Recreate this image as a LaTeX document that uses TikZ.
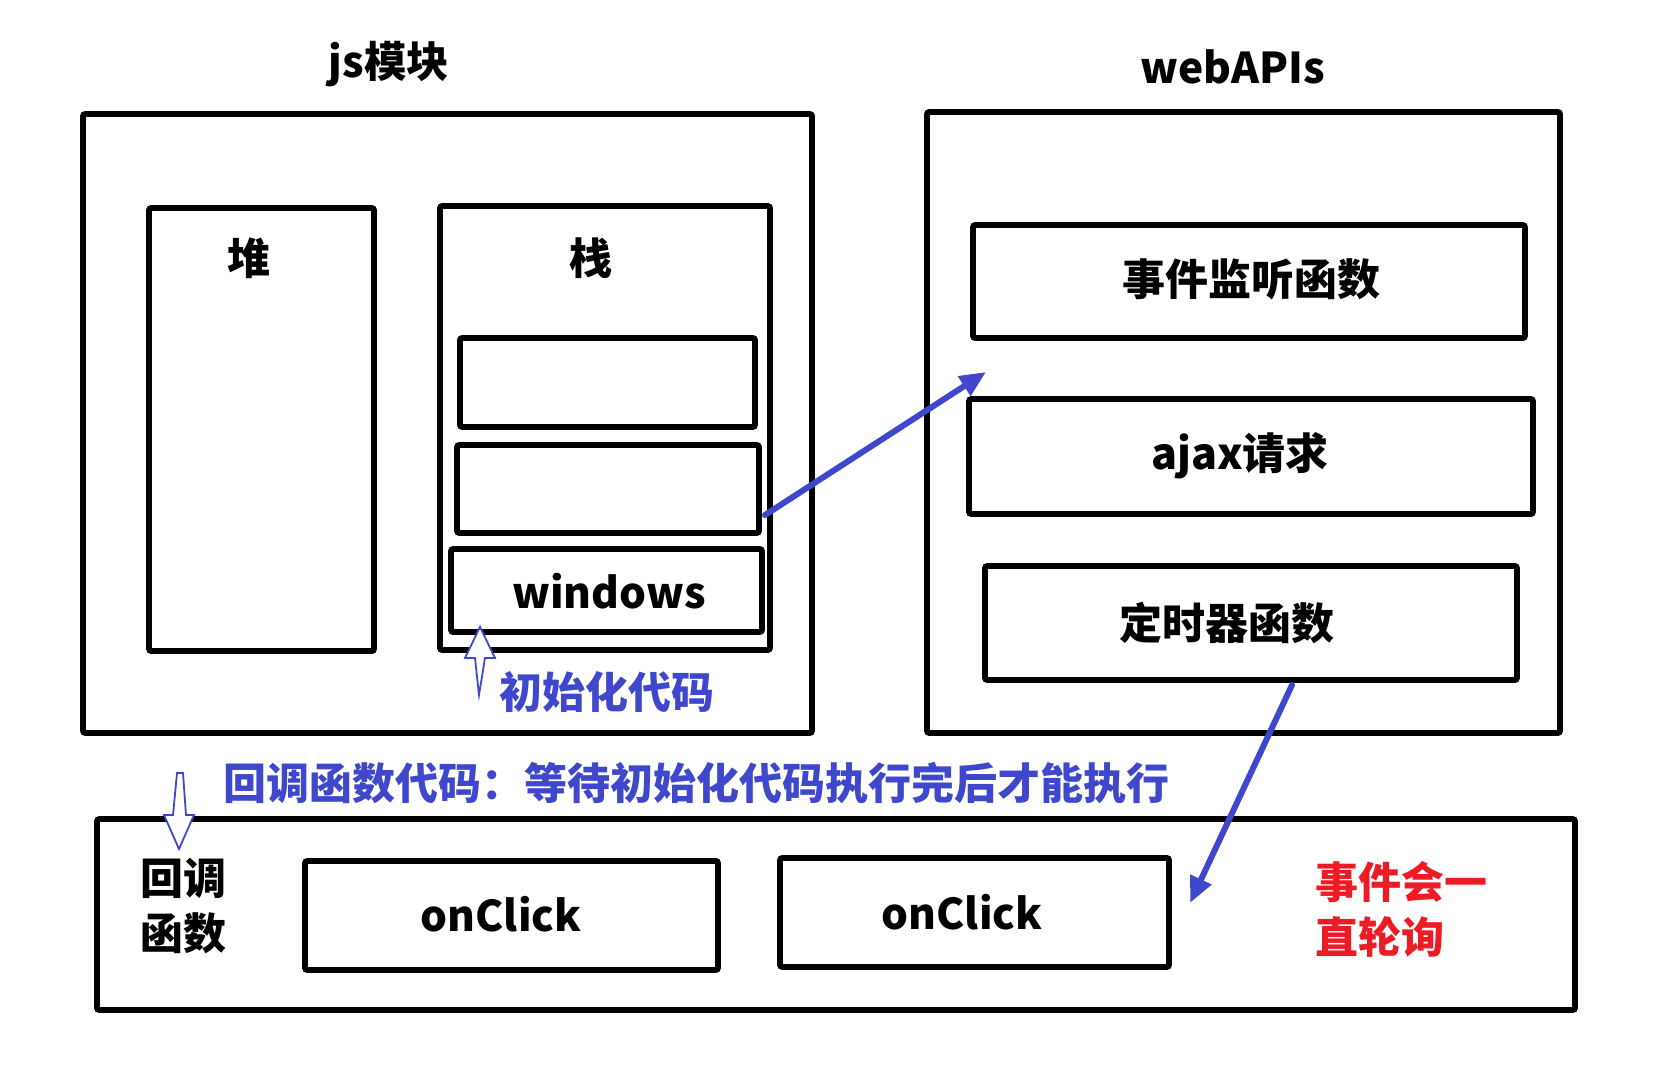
\documentclass[tikz,border=0pt]{standalone}
\usepackage{fontspec}
\setmainfont{Noto Sans CJK SC}
\usetikzlibrary{fit,arrows.meta}
\definecolor{bl}{HTML}{3F48CC}
\definecolor{rd}{HTML}{ED1C24}
\begin{document}
\begin{tikzpicture}[x=0.5pt,y=-0.5pt,
  box/.style={draw=black,line width=2.8pt,rounded corners=1pt,inner sep=0pt,fit={#1}},
  lbl/.style={inner sep=0pt,font=\bfseries\fontsize{21.5}{27.5}\selectfont},
  lat/.style={inner sep=0pt,font=\bfseries\fontsize{21.2}{27.5}\selectfont},
  blt/.style={lbl,text=bl},
  flow/.style={draw=bl,line width=3pt,line cap=round,-{Triangle[length=13pt,width=11pt]}},
  hollow/.style={draw=bl,line width=0.9pt,line join=miter,fill=white}]
\useasboundingbox (0,0) rectangle (1670,1066);
% js module
\node[box={(83,114)(812,733)}] (js) {};
\node[box={(149,208)(374,651)}] (heap) {};
\node[box={(440,206)(770,650)}] (stack) {};
\node[box={(460,338)(755,427)}] (s1) {};
\node[box={(457,445)(759,533)}] (s2) {};
\node[box={(451,549)(762,632)}] (win) {};
% webAPIs
\node[box={(927,112)(1560,733)}] (web) {};
\node[box={(973,225)(1525,338)}] (ev) {};
\node[box={(969,399)(1533,514)}] (ajax) {};
\node[box={(985,566)(1517,680)}] (tm) {};
% callback queue
\node[box={(97,819)(1575,1010)}] (cbq) {};
\node[box={(305,861)(718,970)}] (oc1) {};
\node[box={(780,858)(1169,967)}] (oc2) {};
% texts
\node[lat] (tjs) at (389,64) {js模块};
\node[lat] (tweb) at (1233,67) {webAPIs};
\node[lbl] (theap) at (249,258) {堆};
\node[lbl] (tstack) at (591,258) {栈};
\node[lbl] (tev) at (1251,279) {事件监听函数};
\node[lbl] (tajax) at (1240,456) {ajax请求};
\node[lbl] (ttm) at (1227,623) {定时器函数};
\node[lat] (twin) at (609,591) {windows};
\node[lat] (toc1) at (501,914) {onClick};
\node[lat] (toc2) at (962,912) {onClick};
\node[lbl,align=left,anchor=west] (tcb) at (140,906) {回调\\函数};
\node[lbl,align=left,anchor=west,text=rd] (tpoll) at (1315,909) {事件会一\\直轮询};
\node[blt] (tinit) at (607,692) {初始化代码};
\node[blt] (tnote) at (696,783) {回调函数代码：等待初始化代码执行完后才能执行};
% blue arrows
\coordinate (a1s) at (765,515);
\coordinate (a1e) at (986,372);
\draw[flow] (a1s) -- (a1e);
\coordinate (a2s) at (1292,685);
\coordinate (a2e) at (1190,903);
\draw[flow] (a2s) -- (a2e);
% hollow arrows
\draw[hollow] (480,627) -- (495,658) -- (485,658) -- (479,695) -- (475,658) -- (465,658) -- cycle;
\draw[hollow] (177,773) -- (183,773) -- (186,815) -- (194,815) -- (179,849) -- (164,815) -- (173,815) -- cycle;
\end{tikzpicture}
\end{document}
